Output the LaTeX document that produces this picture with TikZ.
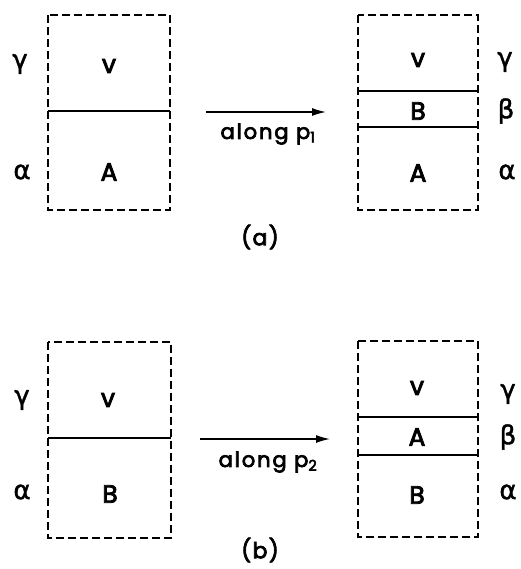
\documentclass[tikz,border=0pt]{standalone}
\usepackage{fontspec}
\setmainfont{Poppins}[FakeBold=3.5]
\newfontfamily\greekfont{DejaVu Sans}[FakeBold=1.5]
\usetikzlibrary{arrows.meta}
\begin{document}
\begin{tikzpicture}[x=1pt,y=-1pt,
  cell/.style={draw, dash pattern=on 8pt off 4pt, line width=1.2pt},
  divider/.style={line width=1.4pt},
  lbl/.style={font=\fontsize{25}{27}\selectfont, inner sep=0pt},
  glbl/.style={font=\greekfont\fontsize{26}{28}\selectfont, inner sep=0pt},
  move/.style={line width=1.4pt, -{Latex[length=14pt,width=8pt]}},
  pathtext/.style={font=\fontsize{21}{23}\selectfont\addfontfeature{LetterSpace=9}, inner sep=0pt},
  captext/.style={font=\fontsize{22}{24}\selectfont\addfontfeature{LetterSpace=6}, inner sep=0pt}]
\useasboundingbox (0,0) rectangle (520,569);

% ---- (a) ----
\draw[cell] (48,15) rectangle (170,210);
\draw[divider] (48,111) -- (170,111);
\node[lbl] (a1v) at (109,66) {v};
\node[lbl] (a1A) at (109,172) {A};
\node[glbl] (a1g) at (20,64) {γ};
\node[glbl] (a1a) at (22,172) {α};

\draw[cell] (358,15) rectangle (478,210);
\draw[divider] (358,91) -- (478,91);
\draw[divider] (358,127) -- (478,127);
\node[lbl] (a2v) at (418,60) {v};
\node[lbl] (a2B) at (418,111) {B};
\node[lbl] (a2A) at (418,173) {A};
\node[glbl] (a2g) at (505,62) {γ};
\node[glbl] (a2b) at (506,111) {β};
\node[glbl] (a2a) at (507,172) {α};

\coordinate (as) at (206,112);
\coordinate (ae) at (326,112);
\draw[move] (as) -- (ae);
\node[pathtext] (al1) at (268,134) {along p\textsubscript{1}};
\node[captext] (capa) at (260,237) {(a)};

% ---- (b) ----
\draw[cell] (48,342) rectangle (171,538);
\draw[divider] (48,438) -- (171,438);
\node[lbl] (b1v) at (108,400) {v};
\node[lbl] (b1B) at (110,494) {B};
\node[glbl] (b1g) at (22,400) {γ};
\node[glbl] (b1a) at (22,492) {α};

\draw[cell] (358,341) rectangle (478,537);
\draw[divider] (358,417) -- (478,417);
\draw[divider] (358,455) -- (478,455);
\node[lbl] (b2v) at (417,388) {v};
\node[lbl] (b2A) at (417,437) {A};
\node[lbl] (b2B) at (417,495) {B};
\node[glbl] (b2g) at (508,394) {γ};
\node[glbl] (b2b) at (508,437) {β};
\node[glbl] (b2a) at (508,492) {α};

\coordinate (bs) at (200,439);
\coordinate (be) at (330,439);
\draw[move] (bs) -- (be);
\node[pathtext] (al2) at (268,462) {along p\textsubscript{2}};
\node[captext] (capb) at (260,550) {(b)};
\end{tikzpicture}
\end{document}
